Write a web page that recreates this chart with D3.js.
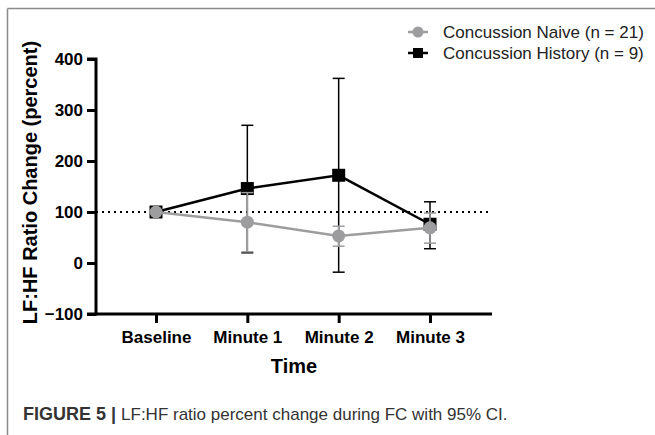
<!DOCTYPE html>
<html>
<head>
<meta charset="utf-8">
<script src="https://cdn.jsdelivr.net/npm/d3@7"></script>
<style>
body{margin:0;background:#fff;}
svg{display:block;font-family:"Liberation Sans",Arial,sans-serif;}
.tick text{font-weight:bold;font-size:17px;fill:#000;}
</style>
</head>
<body>
<svg id="chart" width="655" height="435"></svg>
<script>
var timepoints = ["Baseline","Minute 1","Minute 2","Minute 3"];
var naiveMean = [100,80,53,69];
var naiveLow = [100,22,33,39];
var naiveHigh = [100,138,72,98];
var historyMean = [100,146,172,76];
var historyLow = [100,20,-18,28];
var historyHigh = [100,270,362,120];
var yTicks = [-100,0,100,200,300,400];

var svg = d3.select("#chart");

// frame lines of the figure panel
svg.append("line").attr("x1",7.5).attr("x2",655).attr("y1",8.5).attr("y2",8.5)
  .attr("stroke","#8a8a8a").attr("stroke-width",1.5);
svg.append("line").attr("x1",7.5).attr("x2",7.5).attr("y1",8.5).attr("y2",435)
  .attr("stroke","#8a8a8a").attr("stroke-width",1.5);

var margin = {left:96,top:59,right:163,bottom:121},
    width = 655-margin.left-margin.right,
    height = 435-margin.top-margin.bottom;

var g = svg.append("g").attr("transform","translate("+margin.left+","+margin.top+")");

var y = d3.scaleLinear().domain([-100,400]).range([height,0]);
var x = d3.scalePoint().domain(timepoints).range([60,334]);

// reference line at 100
g.append("line").attr("x1",0).attr("x2",width).attr("y1",y(100)).attr("y2",y(100))
  .attr("stroke","#000").attr("stroke-width",2).attr("stroke-dasharray","2,4");

var yAxis = g.append("g").call(d3.axisLeft(y).tickValues(yTicks).tickSize(9).tickPadding(4));
var xAxis = g.append("g").attr("transform","translate(0,"+height+")")
  .call(d3.axisBottom(x).tickSize(9).tickPadding(8));
[yAxis,xAxis].forEach(function(a){
  a.select(".domain").attr("stroke","#000").attr("stroke-width",3);
  a.selectAll(".tick line").attr("stroke","#000").attr("stroke-width",3);
});
yAxis.select(".domain").attr("d","M-9,"+height+"H0V0H-9");
xAxis.select(".domain").attr("d","M0,0H"+width);
xAxis.selectAll(".tick line").attr("y1",0);

function series(mean,low,high,colour,shape){
  var s = g.append("g");
  timepoints.forEach(function(t,i){
    if(low[i]==high[i]) return;
    var cx = x(t);
    s.append("line").attr("x1",cx).attr("x2",cx).attr("y1",y(low[i])).attr("y2",y(high[i]))
      .attr("stroke",colour).attr("stroke-width",1.5);
    [low[i],high[i]].forEach(function(v){
      s.append("line").attr("x1",cx-6).attr("x2",cx+6).attr("y1",y(v)).attr("y2",y(v))
        .attr("stroke",colour).attr("stroke-width",1.5);
    });
  });
  var line = d3.line().x(function(d,i){return x(timepoints[i]);}).y(function(d){return y(d);});
  s.append("path").datum(mean).attr("d",line).attr("fill","none")
    .attr("stroke",colour).attr("stroke-width",2.5);
  mean.forEach(function(v,i){
    if(shape=="square"){
      s.append("rect").attr("x",x(timepoints[i])-6.5).attr("y",y(v)-6.5)
        .attr("width",13).attr("height",13).attr("fill",colour);
    }else{
      s.append("circle").attr("cx",x(timepoints[i])).attr("cy",y(v)).attr("r",6.5).attr("fill",colour);
    }
  });
}
series(historyMean,historyLow,historyHigh,"#000","square");
series(naiveMean,naiveLow,naiveHigh,"#9d9d9f","circle");

// axis titles
svg.append("text").attr("transform","translate(37,"+(margin.top+height/2-4)+") rotate(-90)")
  .attr("text-anchor","middle").attr("font-weight","bold").attr("font-size",20).text("LF:HF Ratio Change (percent)");
svg.append("text").attr("x",294).attr("y",373).attr("text-anchor","middle")
  .attr("font-weight","bold").attr("font-size",20).text("Time");

// legend
var legend = [{name:"Concussion Naive (n = 21)",colour:"#9d9d9f",shape:"circle"},
              {name:"Concussion History (n = 9)",colour:"#000",shape:"square"}];
legend.forEach(function(d,i){
  var ly = 32+i*21;
  svg.append("line").attr("x1",408).attr("x2",428).attr("y1",ly).attr("y2",ly)
    .attr("stroke",d.colour).attr("stroke-width",2.5);
  if(d.shape=="circle") svg.append("circle").attr("cx",418).attr("cy",ly).attr("r",5.5).attr("fill",d.colour);
  else svg.append("rect").attr("x",413).attr("y",ly-5).attr("width",10).attr("height",10).attr("fill",d.colour);
  svg.append("text").attr("x",443).attr("y",ly+6).attr("font-size",17).attr("fill","#222").text(d.name);
});

// caption
var cap = svg.append("text").attr("x",23).attr("y",420).attr("font-size",17).attr("fill","#333");
cap.append("tspan").attr("font-weight","bold").attr("font-size",18).text("FIGURE 5 | ");
cap.append("tspan").text("LF:HF ratio percent change during FC with 95% CI.");
</script>
</body>
</html>
